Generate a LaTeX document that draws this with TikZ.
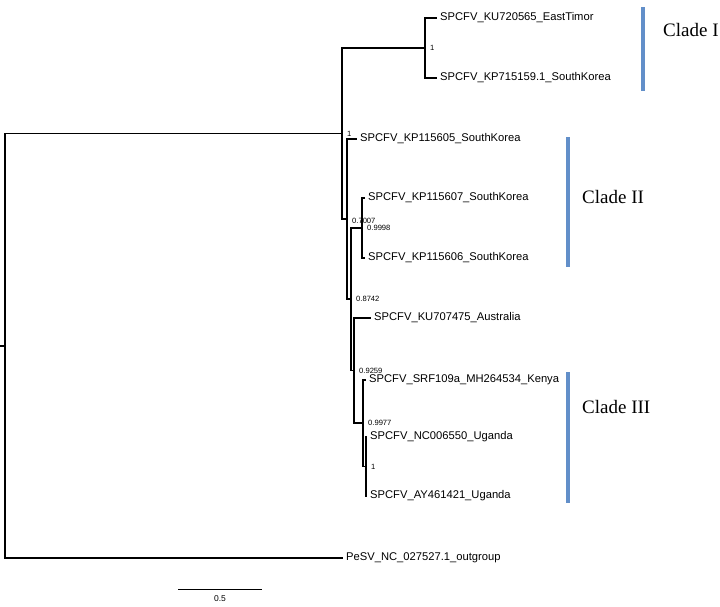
\documentclass[tikz,border=0pt]{standalone}
\usepackage{fontspec}
\setmainfont{Liberation Serif}
\setsansfont{Liberation Sans}
\usetikzlibrary{positioning}
\definecolor{cladeblue}{RGB}{98,143,201}

\begin{document}
\begin{tikzpicture}[x=1pt, y=-1pt,
  branch/.style={line width=1.6pt},
  leaf/.style={anchor=west, inner sep=3pt, font=\sffamily\fontsize{11.2}{13}\selectfont},
  supp/.style={anchor=west, inner sep=0pt, xshift=5pt, font=\sffamily\fontsize{7.6}{8}\selectfont},
  cladebar/.style={line width=3.5pt, draw=cladeblue},
  cladename/.style={anchor=west, inner sep=0pt, font=\rmfamily\fontsize{19}{22}\selectfont}]

\useasboundingbox (0,0) rectangle (720,606);

\coordinate (base) at (0,346);
\coordinate (root) at (5,346);
\coordinate (nA) at (342,133.5);
\coordinate (nI) at (425,48);
\coordinate (nB) at (347,219);
\coordinate (nC) at (351,299);
\coordinate (nD) at (362,228);
\coordinate (nE) at (354,370.5);
\coordinate (nF) at (363,423);
\coordinate (nG) at (366,466.5);

\node[leaf] (kuET) at (437,18) {SPCFV\_KU720565\_EastTimor};
\node[leaf] (kpSK) at (437,78) {SPCFV\_KP715159.1\_SouthKorea};
\node[leaf] (kpA) at (357,139) {SPCFV\_KP115605\_SouthKorea};
\node[leaf] (kpB) at (365,198) {SPCFV\_KP115607\_SouthKorea};
\node[leaf] (kpC) at (365,258) {SPCFV\_KP115606\_SouthKorea};
\node[leaf] (kuAU) at (371,318) {SPCFV\_KU707475\_Australia};
\node[leaf] (srfKE) at (366,380) {SPCFV\_SRF109a\_MH264534\_Kenya};
\node[leaf] (ncUG) at (367,437) {SPCFV\_NC006550\_Uganda};
\node[leaf] (ayUG) at (367,496) {SPCFV\_AY461421\_Uganda};
\node[leaf] (outg) at (343,558) {PeSV\_NC\_027527.1\_outgroup};

\draw[branch] (base) -- (root);
\draw[branch] (root) |- (nA);
\draw[branch] (root) |- (outg);
\draw[branch] (nA) |- (nI);
\draw[branch] (nA) |- (nB);
\draw[branch] (nI) |- (kuET);
\draw[branch] (nI) |- (kpSK);
\draw[branch] (nB) |- (kpA);
\draw[branch] (nB) |- (nC);
\draw[branch] (nC) |- (nD);
\draw[branch] (nC) |- (nE);
\draw[branch] (nD) |- (kpB);
\draw[branch] (nD) |- (kpC);
\draw[branch] (nE) |- (kuAU);
\draw[branch] (nE) |- (nF);
\draw[branch] (nF) |- (srfKE);
\draw[branch] (nF) |- (nG);
\draw[branch] (nG) |- (ncUG);
\draw[branch] (nG) |- (ayUG);

\node[supp] (sA) at (nA) {1};
\node[supp] (sI) at (nI) {1};
\node[supp, yshift=-2pt] (sB) at (nB) {0.7007};
\node[supp] (sD) at (nD) {0.9998};
\node[supp] (sC) at (nC) {0.8742};
\node[supp] (sE) at (nE) {0.9259};
\node[supp] (sF) at (nF) {0.9977};
\node[supp] (sG) at (nG) {1};

\coordinate (sbL) at (178,589);
\coordinate (sbR) at (262,589);
\coordinate (sbM) at (220,589);
\draw[line width=0.8pt] (sbL) -- (sbR);
\node[font=\sffamily\fontsize{8.5}{9}\selectfont, inner sep=0pt, below=6pt of sbM] (sbLab) {0.5};

\coordinate (barIa) at (643,7);
\coordinate (barIb) at (643,91);
\coordinate (barIIa) at (568,137);
\coordinate (barIIb) at (568,267);
\coordinate (barIIIa) at (568,372);
\coordinate (barIIIb) at (568,503);
\draw[cladebar] (barIa) -- (barIb);
\draw[cladebar] (barIIa) -- (barIIb);
\draw[cladebar] (barIIIa) -- (barIIIb);
\node[cladename] (cladeI) at (663,30) {Clade I};
\node[cladename] (cladeII) at (582,197) {Clade II};
\node[cladename] (cladeIII) at (582,407) {Clade III};

\end{tikzpicture}
\end{document}
